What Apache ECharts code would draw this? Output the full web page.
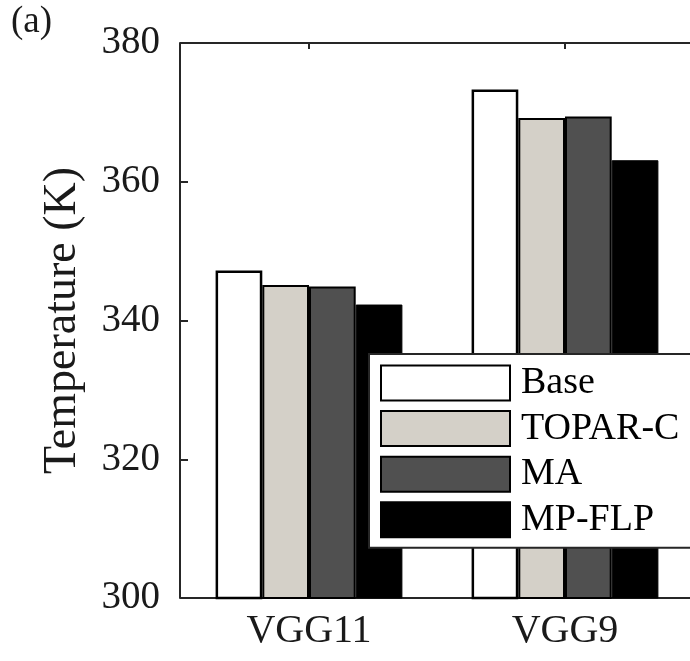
<!DOCTYPE html>
<html>
<head>
<meta charset="utf-8">
<script src="https://cdn.jsdelivr.net/npm/echarts@6/dist/echarts.min.js"></script>
<style>
  html, body { margin: 0; padding: 0; background: #fff; overflow: hidden; }
  /* canvas a bit wider than the window so the plot box runs off the right edge */
  #main { width: 700px; height: 661px; }
</style>
</head>
<body>
<div id="main"></div>
<script>
// data
var models = ['VGG11', 'VGG9'];
var methods = ['Base', 'TOPAR-C', 'MA', 'MP-FLP'];
var baseTemp = [347.2, 373.3];
var toparTemp = [345.1, 369.2];
var maTemp = [344.9, 369.4];
var mpflpTemp = [342.3, 363.1];
var yTicks = [300, 320, 340, 360, 380];

var serif = "'Liberation Serif', 'Times New Roman', serif";
var axisCol = '#262626';

var chart = echarts.init(document.getElementById('main'));

function bar(name, values, fill, bw) {
  return {
    name: name,
    type: 'bar',
    data: values,
    barWidth: 46.7,
    barGap: '0%',
    itemStyle: { color: fill, borderColor: '#000', borderWidth: bw },
    emphasis: { disabled: true }
  };
}

var option = {
  animation: false,
  backgroundColor: '#fff',
  grid: { left: 181, width: 512, top: 43, height: 555, containLabel: false },
  graphic: [{
    type: 'text', left: 11, top: 4,
    style: { text: '(a)', fontFamily: serif, fontSize: 37, fill: '#1a1a1a' }
  }],
  legend: {
    orient: 'vertical',
    left: 369, top: 354,
    itemWidth: 129, itemHeight: 35, itemGap: 7.6,
    padding: [10, 40, 9, 11],
    backgroundColor: '#fff',
    borderColor: axisCol, borderWidth: 2, borderRadius: 0,
    icon: 'rect',
    data: methods,
    textStyle: { fontFamily: serif, fontSize: 38, color: '#000', padding: [0, 0, 0, 6] },
    selectedMode: false
  },
  xAxis: [{
    type: 'category',
    data: models,
    position: 'bottom',
    axisLine: { lineStyle: { color: axisCol, width: 2 } },
    axisTick: { show: false },
    axisLabel: { fontFamily: serif, fontSize: 40, color: '#1a1a1a', margin: 13 }
  }, {
    type: 'category',
    data: models,
    position: 'top',
    axisLine: { show: true, lineStyle: { color: axisCol, width: 2 } },
    axisTick: { show: true, inside: true, alignWithLabel: true, length: 6, lineStyle: { color: axisCol, width: 2 } },
    axisLabel: { show: false }
  }],
  yAxis: {
    type: 'value',
    offset: 1,
    min: yTicks[0], max: yTicks[yTicks.length - 1], interval: 20,
    name: 'Temperature (K)',
    nameLocation: 'middle',
    nameGap: 94,
    nameTextStyle: { fontFamily: serif, fontSize: 46, color: '#1a1a1a' },
    axisLine: { show: true, lineStyle: { color: axisCol, width: 2 } },
    axisTick: { show: true, inside: true, length: 8, lineStyle: { color: axisCol, width: 2 } },
    axisLabel: { fontFamily: serif, fontSize: 39, color: '#1a1a1a', margin: 20 },
    splitLine: { show: false }
  },
  series: [
    bar('Base', baseTemp, '#ffffff', 2.5),
    bar('TOPAR-C', toparTemp, '#d4d0c8', 2),
    bar('MA', maTemp, '#505050', 2),
    bar('MP-FLP', mpflpTemp, '#000000', 1)
  ]
};

chart.setOption(option);
</script>
</body>
</html>
